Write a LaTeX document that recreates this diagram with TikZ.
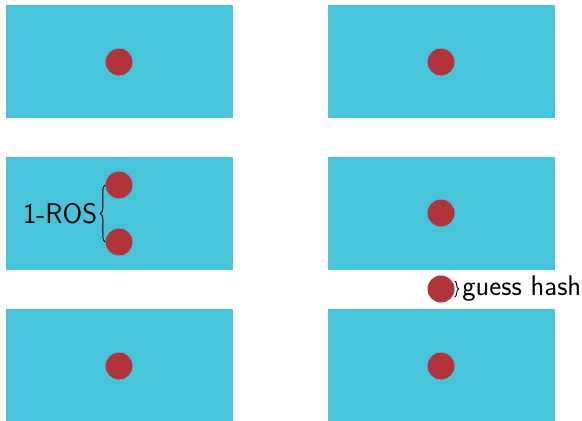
\documentclass[tikz,border=0pt]{standalone}
\usetikzlibrary{decorations.pathreplacing}
\definecolor{boxcyan}{HTML}{48C4DA}
\definecolor{dotred}{HTML}{B0343A}
\tikzset{
  panel/.style={fill=boxcyan,draw=none,minimum width=227pt,minimum height=113pt,inner sep=0pt},
  dot/.style={circle,fill=dotred,draw=none,minimum size=27pt,inner sep=0pt},
  lbl/.style={font=\sffamily\fontsize{28.4}{32}\selectfont,inner sep=1pt},
  brc/.style={decorate,decoration={brace,amplitude=5pt},line width=0.9pt}
}
\begin{document}
\begin{tikzpicture}[x=1pt,y=-1pt]
\useasboundingbox (0,0) rectangle (582,421);
\node[panel] (p11) at (119.5,61.5) {};
\node[panel] (p12) at (441.5,61.5) {};
\node[panel] (p21) at (119.5,213.5) {};
\node[panel] (p22) at (441.5,213.5) {};
\node[panel] (p31) at (119.5,365.5) {};
\node[panel] (p32) at (441.5,365.5) {};
\node[dot] (d11) at (119,62) {};
\node[dot] (d12) at (441,62) {};
\node[dot] (d21a) at (119,185) {};
\node[dot] (d21b) at (119,242) {};
\node[dot] (d22) at (441,213) {};
\node[dot] (dg) at (441,289) {};
\node[dot] (d31) at (119,366) {};
\node[dot] (d32) at (441,366) {};
\draw[brc] (d21b.west) -- (d21a.west) coordinate[midway,xshift=-7pt] (bm);
\node[lbl,anchor=east] (ros) at (bm) {1-ROS};
\draw[brc,decoration={amplitude=4pt}] ([yshift=8pt]dg.east) -- ([yshift=-8pt]dg.east) coordinate[midway,xshift=6.5pt] (gm);
\node[lbl,anchor=west] (gh) at (gm) {guess hash};
\end{tikzpicture}
\end{document}
